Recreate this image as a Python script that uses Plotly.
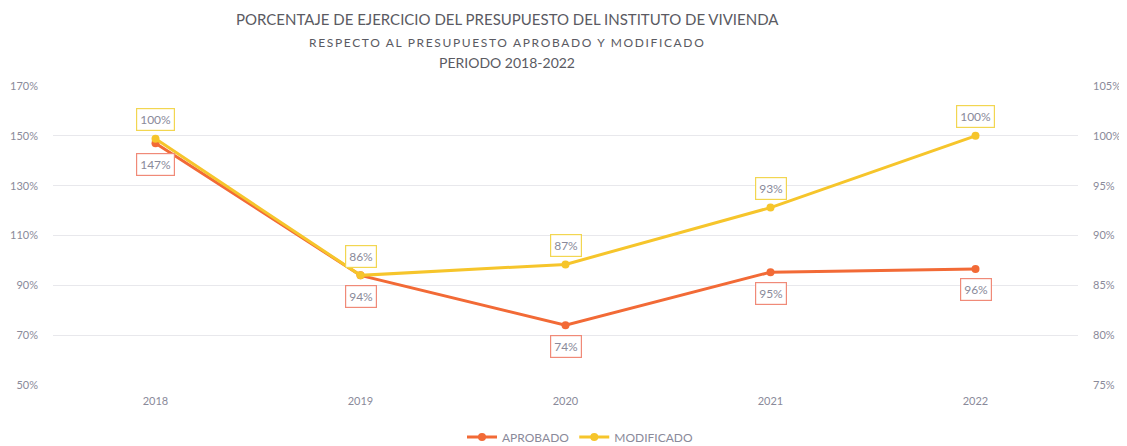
import plotly.graph_objects as go

years = ["2018", "2019", "2020", "2021", "2022"]
aprobado = [147, 94, 74, 95.3, 96.6]
modificado = [99.7, 86, 87.1, 92.8, 100]
aprobado_labels = ["147%", "94%", "74%", "95%", "96%"]
modificado_labels = ["100%", "86%", "87%", "93%", "100%"]
title_lines = [
    "PORCENTAJE DE EJERCICIO DEL PRESUPUESTO DEL INSTITUTO DE VIVIENDA",
    "RESPECTO AL PRESUPUESTO APROBADO Y MODIFICADO",
    "PERIODO 2018-2022",
]

ORANGE = "#F26A36"
YELLOW = "#F6C52B"
FONT = "Lato"
TXT = "#8A8A9A"
TITLE = "#5A5A62"

# page body has an 8px default margin, so the figure is shifted by 8px
OFF = 8
W, H = 1127 - OFF, 446 - OFF
PL, PT, PR, PB = 53, 86, 1078, 385  # plot area in screenshot pixels

fig = go.Figure()
fig.add_trace(go.Scatter(x=years, y=aprobado, name="APROBADO", mode="lines+markers",
                         line=dict(color=ORANGE, width=3), marker=dict(size=8, color=ORANGE),
                         yaxis="y"))
fig.add_trace(go.Scatter(x=years, y=modificado, name="MODIFICADO", mode="lines+markers",
                         line=dict(color=YELLOW, width=3), marker=dict(size=8, color=YELLOW),
                         yaxis="y2"))

anns = []
for i, (y, t) in enumerate(zip(aprobado, aprobado_labels)):
    anns.append(dict(x=i, y=y, xref="x", yref="y", text=t, showarrow=False, yshift=-21,
                     bordercolor="#F08A78", borderwidth=1.2, borderpad=3, bgcolor="white",
                     font=dict(family=FONT, size=12, color=TXT)))
for i, (y, t) in enumerate(zip(modificado, modificado_labels)):
    anns.append(dict(x=i, y=y, xref="x", yref="y2", text=t, showarrow=False, yshift=19,
                     bordercolor="#F2D651", borderwidth=1.2, borderpad=3, bgcolor="white",
                     font=dict(family=FONT, size=12, color=TXT)))

pw, ph = PR - PL, PB - PT
styles = ["", "letter-spacing:1.65px", ""]
for text, ypx, size, st in zip(title_lines, [19, 42, 62], [15, 12, 14], styles):
    label = f'<span style="{st}">{text}</span>' if st else text
    anns.append(dict(x=(507 - PL) / pw, y=1 + (PT - ypx) / ph, xref="paper", yref="paper",
                     text=label, showarrow=False, xanchor="center", yanchor="middle",
                     font=dict(family=FONT, size=size, color=TITLE)))

fig.update_layout(
    width=W, height=H,
    margin=dict(l=PL - OFF, r=W - (PR - OFF), t=PT - OFF, b=H - (PB - OFF), autoexpand=False),
    paper_bgcolor="white", plot_bgcolor="white",
    annotations=anns,
    font=dict(family=FONT, color=TXT),
    xaxis=dict(type="category", range=[-0.5, 4.5], showgrid=False, showline=False, zeroline=False,
               ticks="", tickfont=dict(size=11, color=TXT), ticklabelstandoff=8, automargin=False),
    yaxis=dict(range=[50, 170], dtick=20, tick0=50, ticksuffix="%", showgrid=True,
               gridcolor="#E8E8EC", gridwidth=1, zeroline=False, showline=False,
               tickfont=dict(size=11, color=TXT), ticklabelstandoff=14, automargin=False),
    yaxis2=dict(range=[75, 105], dtick=5, tick0=75, ticksuffix="%", overlaying="y", side="right",
                showgrid=False, zeroline=False, showline=False,
                tickfont=dict(size=11, color=TXT), ticklabelstandoff=14, automargin=False),
    legend=dict(orientation="h", x=(580 - PL) / pw, xanchor="center", y=-(437 - PB) / ph, yanchor="middle",
                font=dict(family=FONT, size=12, color=TXT)),
    showlegend=True,
)

fig.write_html("out.html")
